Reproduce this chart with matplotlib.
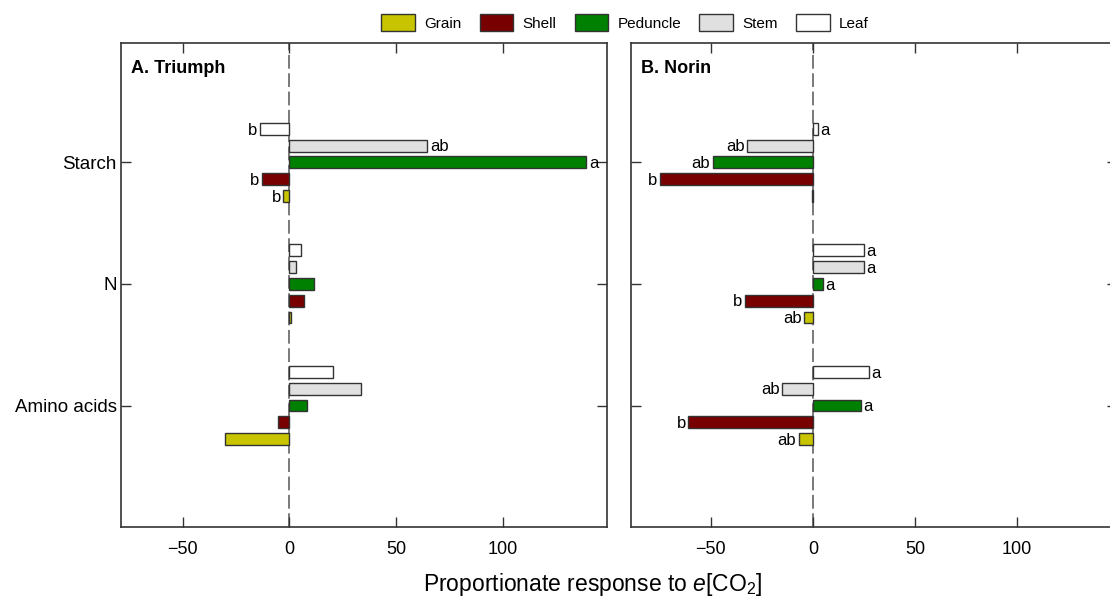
import numpy as np
import matplotlib
matplotlib.use('Agg')
import matplotlib.pyplot as plt
from matplotlib.patches import Patch

plt.rcParams['font.family'] = ['Liberation Sans', 'DejaVu Sans']
plt.rcParams['mathtext.fontset'] = 'custom'
plt.rcParams['mathtext.rm'] = 'Liberation Sans'
plt.rcParams['mathtext.it'] = 'Liberation Sans:italic'

# ── Data ─────────────────────────────────────────────────────────────────────
traits = ['Starch', 'N', 'Amino acids']
tissues = ['Grain', 'Shell', 'Peduncle', 'Stem', 'Leaf']
tissue_colors = ['#C8C400', '#780000', '#008000', '#E0E0E0', '#FFFFFF']

# values per tissue, in trait order (Starch, N, Amino acids)
triumph = {
    'Grain':    [-2.8, 0.6, -30.2],
    'Shell':    [-13.1, 7.0, -5.6],
    'Peduncle': [139.2, 11.3, 8.0],
    'Stem':     [64.7, 3.0, 33.6],
    'Leaf':     [-13.9, 5.2, 20.3],
}
norin = {
    'Grain':    [-0.3, -4.1, -6.9],
    'Shell':    [-74.9, -33.2, -61.0],
    'Peduncle': [-49.0, 4.9, 23.7],
    'Stem':     [-32.1, 24.8, -14.9],
    'Leaf':     [2.3, 25.1, 27.3],
}
# significance letters (empty = none)
triumph_letters = {
    'Grain':    ['b', '', ''],
    'Shell':    ['b', '', ''],
    'Peduncle': ['a', '', ''],
    'Stem':     ['ab', '', ''],
    'Leaf':     ['b', '', ''],
}
norin_letters = {
    'Grain':    ['', 'ab', 'ab'],
    'Shell':    ['b', 'b', 'b'],
    'Peduncle': ['ab', 'a', 'a'],
    'Stem':     ['ab', 'a', 'ab'],
    'Leaf':     ['a', 'a', 'a'],
}
x_ticks = [-50, 0, 50, 100]

# ── Layout ───────────────────────────────────────────────────────────────────
fig = plt.figure(figsize=(11.1, 6.01), dpi=100)
ax1 = fig.add_axes([0.109, 0.123, 0.438, 0.805])
ax2 = fig.add_axes([0.5685, 0.123, 0.438, 0.805])

y_pos = np.array([3, 2, 1])
offsets = {'Grain': -0.276, 'Shell': -0.138, 'Peduncle': 0.0,
           'Stem': 0.138, 'Leaf': 0.276}
bar_h = 0.098


def draw_panel(ax, data, letters, title, xlim):
    ax.axvline(0, color='#555555', linestyle=(0, (9, 3)), linewidth=1.1, zorder=1)
    for tissue, col in zip(tissues, tissue_colors):
        vals = data[tissue]
        ys = y_pos + offsets[tissue]
        ax.barh(ys, vals, height=bar_h, color=col, edgecolor='#333333',
                linewidth=1.0, zorder=2)
        for y, v, lab in zip(ys, vals, letters[tissue]):
            if not lab:
                continue
            if v >= 0:
                ax.text(v + 1.2, y - 0.01, lab, ha='left', va='center', fontsize=12)
            else:
                ax.text(v - 1.2, y - 0.01, lab, ha='right', va='center', fontsize=12)
    ax.set_xlim(*xlim)
    ax.set_ylim(0, 3.98)
    ax.set_xticks(x_ticks)
    ax.set_xticklabels([str(t).replace('-', '\u2212') for t in x_ticks], fontsize=13)
    ax.set_yticks(y_pos)
    ax.tick_params(axis='both', direction='in', length=7, width=1,
                   color='#333333', top=True, right=True, pad=10)
    for s in ax.spines.values():
        s.set_color('#333333')
        s.set_linewidth(1.2)
    ax.text(0.02, 0.965, title, transform=ax.transAxes, ha='left', va='top',
            fontsize=13, fontweight='bold')


draw_panel(ax1, triumph, triumph_letters, 'A. Triumph', (-79, 149))
ax1.set_yticklabels(traits, fontsize=13.5)
ax1.tick_params(axis='y', pad=3)

draw_panel(ax2, norin, norin_letters, 'B. Norin', (-89, 149))
ax2.set_yticklabels([])

# ── Legend & label ───────────────────────────────────────────────────────────
handles = [Patch(facecolor=c, edgecolor='#333333', linewidth=1.0, label=t)
           for t, c in zip(tissues, tissue_colors)]
fig.legend(handles=handles, loc='center', bbox_to_anchor=(0.563, 0.962),
           ncol=5, frameon=False, fontsize=11, handlelength=2.2,
           handleheight=1.35, handletextpad=0.6, columnspacing=1.2)

fig.text(0.534, 0.028, r'Proportionate response to $\it{e}$[CO$_2$]',
         ha='center', va='center', fontsize=16.5)

fig.savefig('out.png', dpi=100)
